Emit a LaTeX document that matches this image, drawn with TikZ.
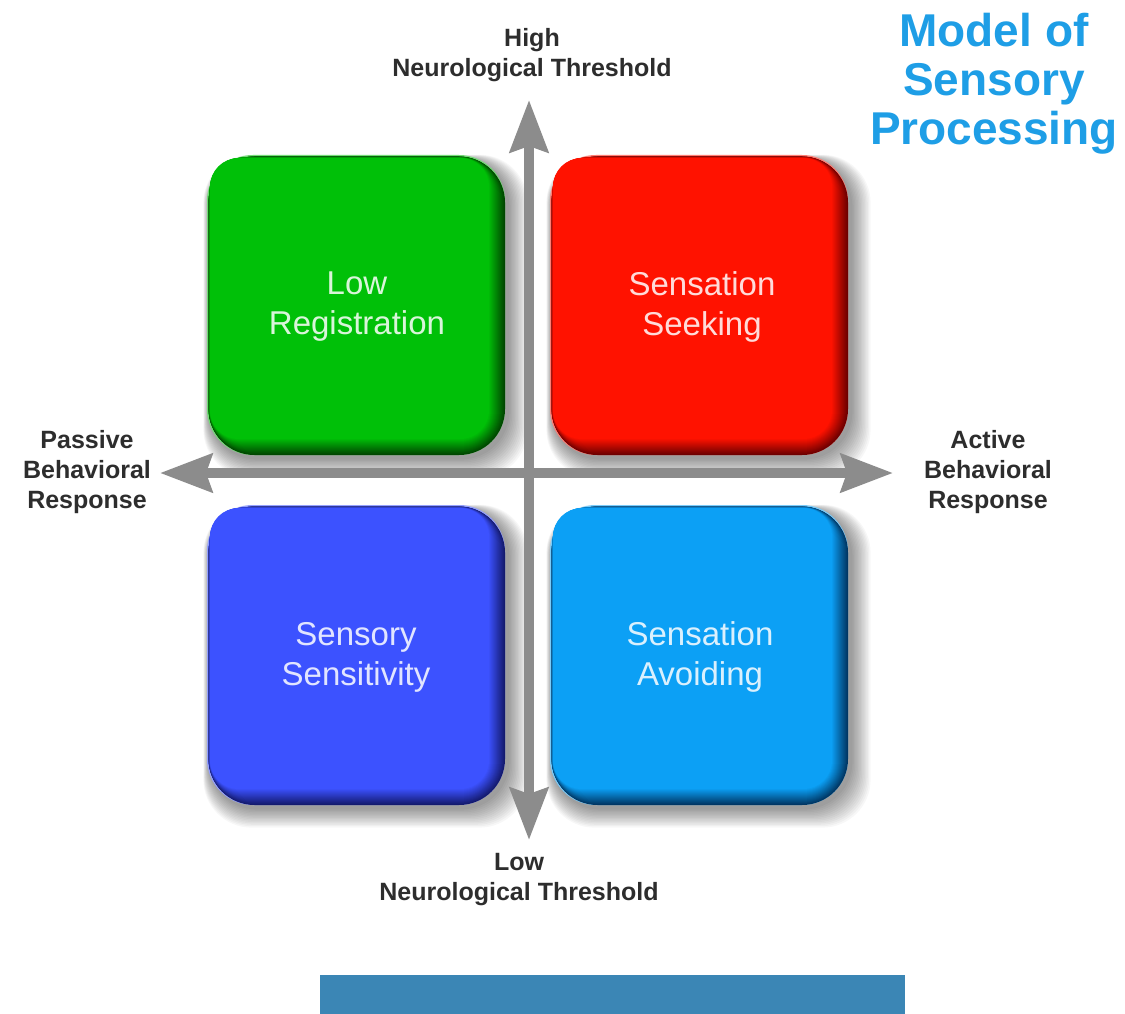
\documentclass[tikz,border=0pt]{standalone}
\usepackage{fontspec}
\setmainfont{Liberation Sans}
\usetikzlibrary{arrows.meta}
\definecolor{axisgray}{RGB}{140,140,140}
\definecolor{labelgray}{RGB}{45,45,45}
\definecolor{titleblue}{RGB}{30,158,230}
\definecolor{barblue}{RGB}{59,134,181}
\definecolor{gmain}{RGB}{0,192,8}
\definecolor{gdark}{RGB}{0,70,0}
\definecolor{rmain}{RGB}{255,18,0}
\definecolor{rdark}{RGB}{110,0,0}
\definecolor{bmain}{RGB}{60,82,255}
\definecolor{bdark}{RGB}{20,26,110}
\definecolor{lmain}{RGB}{12,160,245}
\definecolor{ldark}{RGB}{0,55,100}
\newcommand{\quadbox}[6]{%
  % #1 name, #2 x0, #3 y0, #4 x1, #5 y1, #6 colour stem (g,r,b,l)
  \foreach \i in {1,...,14}{
    \fill[black,opacity=0.03,rounded corners=48pt]
      ({#2+2-0.4*\i},{#3+4-0.3*\i}) rectangle ({#4+3+1.4*\i},{#5+3+1.4*\i});
  }
  \fill[#6main!55!white,rounded corners=46pt] (#2,#3) rectangle (#4,#5);
  \foreach \k in {0,...,16}{
    \pgfmathsetmacro{\mixp}{100*\k/16}
    \fill[#6main!\mixp!#6dark,rounded corners={46pt-1.1pt*\k}]
      ({#2+1.5+0.1*\k},{#3+1.5+0.1*\k}) rectangle ({#4-1.0*\k},{#5-1.0*\k});
  }
  \coordinate (#1) at ({(#2+#4)/2-6},{(#3+#5)/2});
}
\tikzset{
  axislabel/.style={text=labelgray,font=\fontsize{25}{30}\selectfont\bfseries,align=center,inner sep=0pt},
  boxtext/.style={text=white,text opacity=0.85,font=\fontsize{33}{40}\selectfont,align=center,inner sep=0pt},
  axisline/.style={draw=axisgray,line width=10pt,
    {Stealth[length=52pt,width=38pt,inset=6pt]}-{Stealth[length=52pt,width=38pt,inset=6pt]}},
}
\begin{document}
\begin{tikzpicture}[x=1pt,y=-1pt]
\useasboundingbox (0,0) rectangle (1125,1014);
\fill[white] (0,0) rectangle (1125,1014);

% quadrant boxes
\quadbox{qg}{207}{155}{505}{455}{g}
\quadbox{qr}{550}{155}{848}{455}{r}
\quadbox{qb}{207}{505}{505}{805}{b}
\quadbox{ql}{550}{505}{848}{805}{l}

\node[boxtext] (tg) at (357,307) {Low\\Registration};
\node[boxtext] (tr) at (702,307) {Sensation\\Seeking};
\node[boxtext] (tb) at (356,657) {Sensory\\Sensitivity};
\node[boxtext] (tl) at (700,657) {Sensation\\Avoiding};

% axes
\coordinate (vtop) at (529,100);
\coordinate (vbot) at (529,840);
\coordinate (hleft) at (160,473);
\coordinate (hright) at (893,473);
\draw[axisline] (vbot) -- (vtop);
\draw[axisline] (hleft) -- (hright);

% axis labels
\node[axislabel] (high) at (532,55) {High\\Neurological Threshold};
\node[axislabel] (low) at (519,880) {Low\\Neurological Threshold};
\node[axislabel] (passive) at (87,472) {Passive\\Behavioral\\Response};
\node[axislabel] (active) at (988,472) {Active\\Behavioral\\Response};

% title
\node[text=titleblue,font=\fontsize{46}{49}\selectfont\bfseries,align=center,inner sep=0pt] (title) at (994,84) {Model of\\Sensory\\Processing};

% bottom bar
\fill[barblue] (320,975) rectangle (905,1014);
\end{tikzpicture}
\end{document}
